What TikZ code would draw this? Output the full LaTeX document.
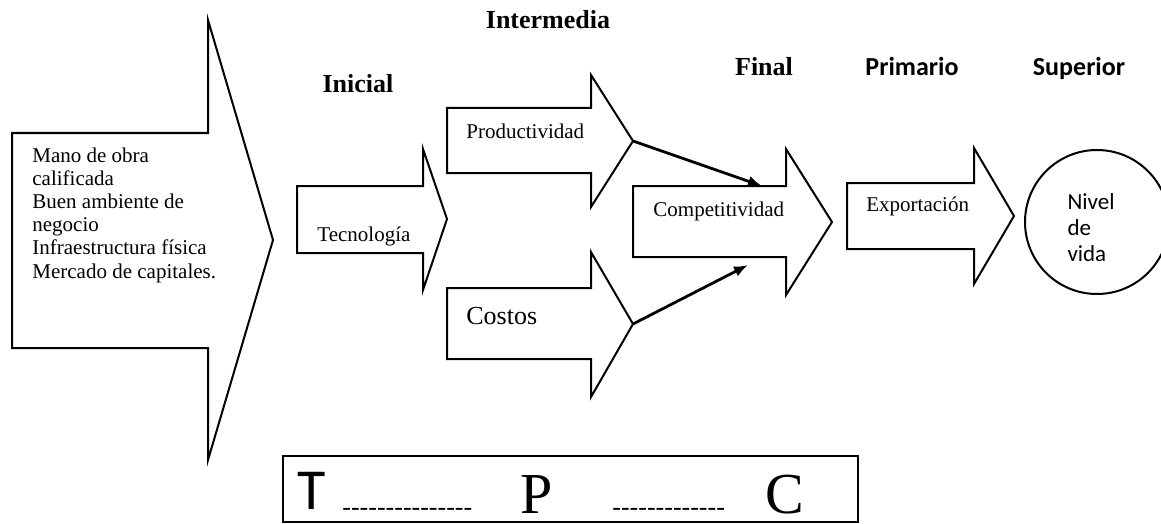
\documentclass[tikz,border=0pt]{standalone}
\usepackage{fontspec}
\setmainfont{Liberation Serif}
\setsansfont{Carlito}
\usepackage{tikz}
\usetikzlibrary{arrows.meta}

\begin{document}
\begin{tikzpicture}[x=0.5pt,y=-0.5pt,
			block arrow/.style={draw,line width=1pt,fill=white,line join=miter},
			box text/.style={anchor=west,inner sep=0pt,
				font=\fontsize{10.5}{11.6}\selectfont},
			stage/.style={inner sep=0pt,font=\fontsize{13}{15}\selectfont\bfseries},
			stage sans/.style={inner sep=0pt,font=\sffamily\fontsize{13}{15}\selectfont\bfseries},
			link/.style={-{Latex[length=7pt,width=5.5pt]},line width=1.4pt},
			big letter/.style={anchor=base,inner sep=0pt,
				font=\fontsize{29}{29}\selectfont},
			big sans/.style={anchor=base,inner sep=0pt,
				font=\sffamily\fontsize{29}{29}\selectfont}]
			
			\useasboundingbox (0,0) rectangle (1161,524);
			
			% stages
			\node[stage] (intermedia) at (548,20) {Intermedia};
			\node[stage] (inicial) at (358,84) {Inicial};
			\node[stage] (final) at (764,67) {Final};
			\node[stage sans] (primario) at (912,66) {Primario};
			\node[stage sans] (superior) at (1079,68) {Superior};
			
			% block arrows
			\draw[block arrow] (12,133) -- (208,133) -- (208,20) -- (273,240)
				-- (208,460) -- (208,348) -- (12,348) -- cycle;
			\draw[block arrow] (297,186) -- (423,186) -- (423,149) -- (447,219)
				-- (423,290) -- (423,253) -- (297,253) -- cycle;
			\draw[block arrow] (447,108) -- (591,108) -- (591,75) -- (633,141)
				-- (591,207) -- (591,173) -- (447,173) -- cycle;
			\draw[block arrow] (447,288) -- (591,288) -- (591,252) -- (633,324)
				-- (591,397) -- (591,359) -- (447,359) -- cycle;
			\draw[block arrow] (633,186) -- (786,186) -- (786,149) -- (832,222)
				-- (786,295) -- (786,257) -- (633,257) -- cycle;
			\draw[block arrow] (847,183) -- (974,183) -- (974,148) -- (1014,216)
				-- (974,284) -- (974,249) -- (847,249) -- cycle;
			\node[draw,circle,line width=1pt,minimum size=72pt,inner sep=0pt]
				(vida) at (1097,222) {};
			
			\coordinate (prod tip) at (633,141);
			\coordinate (costos tip) at (633,324);
			\coordinate (comp top) at (762,186);
			\coordinate (comp low) at (748,265);
			
			% texts
			\node[box text,align=left] (factores) at (32,215)
				{Mano de obra\\calificada\\Buen ambiente de\\negocio\\
				 Infraestructura física\\Mercado de capitales.};
			\node[box text] (tecnologia) at (317,236) {Tecnología};
			\node[box text] (productividad) at (466,131) {Productividad};
			\node[box text,font=\fontsize{13}{15}\selectfont] (costos) at (466,316) {Costos};
			\node[box text] (competitividad) at (653,211) {Competitividad};
			\node[box text] (exportacion) at (866,206) {Exportación};
			\node[inner sep=0pt,align=left,font=\sffamily\fontsize{11.5}{13}\selectfont]
				(nivel) at (1091,228) {Nivel\\de\\vida};
			
			\path[link]
			(prod tip) edge (comp top)
			(costos tip) edge (comp low);
			
			% T --- P --- C
			\node[draw,line width=1pt,minimum width=287.5pt,minimum height=33pt,inner sep=0pt]
				(tpc) at (570.5,489) {};
			\node[big sans] (T) at (312,509) {T};
			\node[big letter] (P) at (537,513) {P};
			\node[big letter] (C) at (785,513) {C};
			\node[anchor=base west,inner sep=0pt,font=\fontsize{13}{15}\selectfont]
				(tp) at (342,515) {\foreach \k in {1,...,15}{\mbox{-}}};
			\node[anchor=base west,inner sep=0pt,font=\fontsize{13}{15}\selectfont]
				(pc) at (612,515) {\foreach \k in {1,...,13}{\mbox{-}}};
		\end{tikzpicture}
\end{document}
